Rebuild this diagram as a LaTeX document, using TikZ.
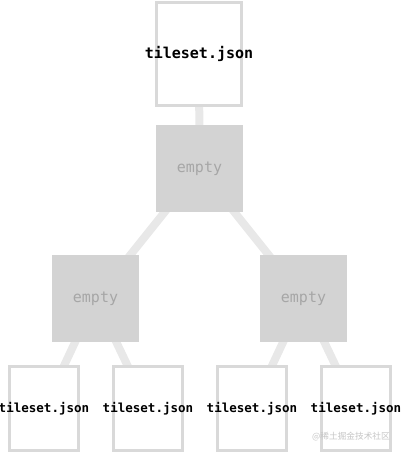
\documentclass[tikz,border=0pt]{standalone}
\usepackage{fontspec}
\setmonofont{DejaVu Sans Mono}
\newfontfamily\cjkfont{Noto Sans CJK SC}
\usetikzlibrary{positioning,backgrounds}
\usepackage{xcolor}
\definecolor{boxline}{HTML}{D9D9D9}
\definecolor{emptyfill}{HTML}{D3D3D3}
\definecolor{emptytxt}{HTML}{A6A6A6}
\definecolor{linkcol}{HTML}{E8E8E8}

\begin{document}
\begin{tikzpicture}[
    x=0.75pt, y=-0.75pt,
    font=\ttfamily,
    json/.style={font=\ttfamily\bfseries\fontsize{11.25}{13}\selectfont, inner sep=0pt},
    smalljson/.style={font=\ttfamily\bfseries\fontsize{9.4}{11}\selectfont, inner sep=0pt},
    filebox/.style={
      draw=boxline, line width=2.25pt, fill=white,
      minimum width=63.75pt, minimum height=77.25pt, inner sep=0pt
    },
    leaf/.style={
      draw=boxline, line width=2.25pt, fill=white,
      minimum width=51.75pt, minimum height=63pt, inner sep=0pt
    },
    emptybox/.style={
      fill=emptyfill, text=emptytxt, inner sep=0pt,
      minimum width=65.25pt, minimum height=65.25pt,
      font=\ttfamily\fontsize{11.25}{13}\selectfont
    },
    link/.style={draw=linkcol, line width=6pt}
  ]
    \useasboundingbox (0,0) rectangle (400,453);

    \node[filebox, label={[json]center:tileset.json}] (root) at (199,54) {};
    \node[emptybox] (e0) at (199.5,168.5) {empty};
    \node[emptybox] (e1) at (95.5,298.5) {empty};
    \node[emptybox] (e2) at (303.5,298.5) {empty};
    \node[leaf, label={[smalljson]center:tileset.json}] (l1) at (44,408.5) {};
    \node[leaf, label={[smalljson]center:tileset.json}] (l2) at (148,408.5) {};
    \node[leaf, label={[smalljson]center:tileset.json}] (l3) at (252,408.5) {};
    \node[leaf, label={[smalljson]center:tileset.json}] (l4) at (356,408.5) {};

    \node[font=\cjkfont\fontsize{6.5}{8}\selectfont, text=gray!45] (mark) at (351,437) {@稀土掘金技术社区};

    \begin{scope}[on background layer]
      \draw[link] (root.center) -- (e0.center);
      \draw[link] (e0.center) -- (e1.center);
      \draw[link] (e0.center) -- (e2.center);
      \draw[link] (e1.center) -- (l1.center);
      \draw[link] (e1.center) -- (l2.center);
      \draw[link] (e2.center) -- (l3.center);
      \draw[link] (e2.center) -- (l4.center);
    \end{scope}
  \end{tikzpicture}
\end{document}
